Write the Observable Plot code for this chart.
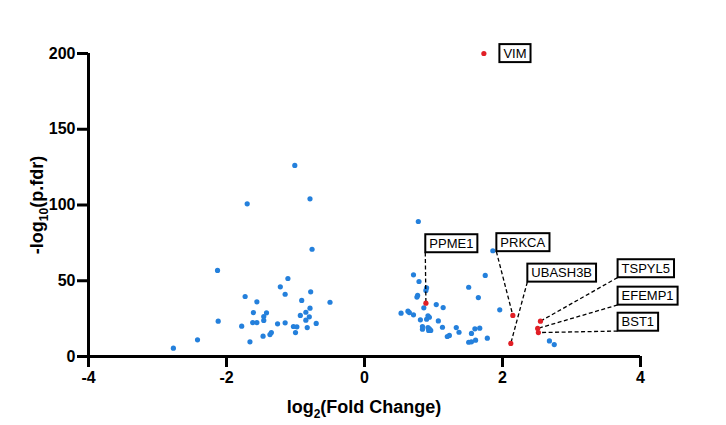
<!DOCTYPE html>
<html>
<head>
<meta charset="utf-8">
<script src="https://cdn.jsdelivr.net/npm/d3@7"></script>
<script src="https://cdn.jsdelivr.net/npm/@observablehq/plot@0.6"></script>
<style>
  html, body { margin: 0; padding: 0; background: #fff; }
  #chart { width: 726px; height: 425px; }
</style>
</head>
<body>
<div id="chart"></div>
<script>
// Non-highlighted genes: log2 fold change and -log10(fdr)
const bgFC = [
  -1.01,-0.79,-1.70,-0.76,-2.13,-1.11,-1.22,-1.15,-1.73,-0.78,-1.56,-0.91,-0.50,-1.61,-1.42,-1.46,
  -0.79,-0.85,-0.93,-0.80,-0.85,-2.12,-1.62,-1.56,-1.46,-1.26,-1.15,-0.70,-1.78,-1.03,-0.98,-0.83,
  -1.00,-1.35,-1.37,-1.47,-1.66,-2.42,-2.77,
  0.78,1.86,0.71,1.75,0.79,0.90,1.51,0.89,0.77,0.76,1.65,0.86,1.04,1.14,1.96,0.53,0.63,0.65,0.71,
  0.92,0.94,0.90,0.81,1.07,0.84,0.84,0.92,0.94,0.96,0.93,1.13,1.33,1.37,1.60,1.67,1.55,1.23,1.20,
  1.51,1.55,1.61,1.78,2.68,2.75
];
const bgP = [
  126.1,104.1,100.8,70.8,56.8,51.5,46.0,41.1,39.6,42.7,36.1,37.0,35.8,29.0,28.8,26.4,
  31.9,29.2,27.1,26.2,24.0,23.3,22.4,22.4,23.8,21.6,22.2,21.8,20.0,19.8,19.6,19.1,
  15.8,15.8,14.5,13.4,9.7,11.0,5.5,
  89.1,69.8,53.9,53.5,49.5,45.3,45.7,43.6,40.3,39.2,38.9,32.1,34.3,32.3,30.8,28.6,29.9,29.0,27.5,
  26.9,25.9,24.6,24.2,23.5,19.8,18.0,19.1,18.3,17.2,17.2,19.3,19.1,16.0,18.3,18.7,15.2,13.9,13.2,
  9.4,9.7,10.8,12.1,10.3,7.9
];

// Highlighted genes
const geneNames = ["VIM","PPME1","PRKCA","UBASH3B","TSPYL5","EFEMP1","BST1"];
const geneFC    = [1.73, 0.89, 2.15, 2.12, 2.55, 2.51, 2.52];
const geneP     = [200.0, 35.2, 27.1, 8.6, 23.3, 18.5, 15.8];

// Label box anchors (bottom-left corner of each box, in data units)
const labelX = [1.955, 0.881, 1.911, 2.36, 3.668, 3.668, 3.668];
const labelY = [194.1, 68.6, 69.3, 49.2, 52.1, 34.0, 16.8];

// Tick values
const xTicks = [-4, -2, 0, 2, 4];
const yTicks = [0, 50, 100, 150, 200];

const bg = bgFC.map((x, i) => ({x, y: bgP[i]}));
const genes = geneNames.map((name, i) => ({
  name, x: geneFC[i], y: geneP[i], lx: labelX[i], ly: labelY[i]
}));

const FONT = "'Liberation Sans', Arial, Helvetica, sans-serif";

const plot = Plot.plot({
  width: 726,
  height: 425,
  marginLeft: 88,
  marginRight: 86,
  marginTop: 53,
  marginBottom: 69,
  style: {fontFamily: FONT, background: "#fff", color: "#000"},
  x: {domain: [-4, 4], label: null},
  y: {domain: [0, 200], label: null},
  marks: [
    Plot.axisX({ticks: xTicks, tickSize: 11, tickPadding: 4, strokeWidth: 3,
      fontSize: 16, fontWeight: "bold", label: null, tickFormat: d => d}),
    Plot.axisY({ticks: yTicks, tickSize: 11, tickPadding: 2, strokeWidth: 3,
      fontSize: 16, fontWeight: "bold", label: null, tickFormat: d => d}),
    Plot.ruleY([0], {stroke: "#000", strokeWidth: 3}),
    Plot.ruleX([-4], {stroke: "#000", strokeWidth: 3}),
    Plot.dot(bg, {x: "x", y: "y", r: 2.6, fill: "#2480dc", stroke: "none"}),
    Plot.link(genes.filter(d => d.name !== "VIM"), {
      x1: "lx", y1: "ly", x2: "x", y2: "y",
      stroke: "#000", strokeWidth: 1.3, strokeDasharray: "4,2.5"
    }),
    Plot.dot(genes, {x: "x", y: "y", r: 2.6, fill: "#e11f26", stroke: "none"}),
    Plot.text(genes, {
      x: "lx", y: "ly", text: "name", textAnchor: "start", lineAnchor: "middle",
      dx: 4, dy: -9, fontSize: 13, fontWeight: "normal", fill: "#000"
    })
  ]
});

document.getElementById("chart").appendChild(plot);

// Draw frames around the gene labels from their measured text size
const svg = d3.select(plot);
const NS = "http://www.w3.org/2000/svg";
svg.selectAll("text").filter(function() {
  return geneNames.includes(this.textContent) && this.closest("g[aria-label='text']");
}).each(function() {
  const b = this.getBBox();
  const t = this.getAttribute("transform");
  const g = document.createElementNS(NS, "g");
  if (t) g.setAttribute("transform", t);
  const r = document.createElementNS(NS, "rect");
  const cy = b.y + b.height / 2;
  r.setAttribute("x", b.x - 4);
  r.setAttribute("y", cy - 9);
  r.setAttribute("width", b.width + 8);
  r.setAttribute("height", 18);
  r.setAttribute("fill", "#fff");
  r.setAttribute("stroke", "#000");
  r.setAttribute("stroke-width", 2);
  g.appendChild(r);
  this.parentNode.insertBefore(g, this);
});

// Axis titles with subscripts
const xt = svg.append("text")
  .attr("x", 364).attr("y", 413)
  .attr("text-anchor", "middle")
  .attr("font-family", FONT).attr("font-weight", "bold").attr("font-size", 18)
  .attr("fill", "#000");
xt.append("tspan").text("log");
xt.append("tspan").attr("dy", 5).attr("font-size", 12).text("2");
xt.append("tspan").attr("dy", -5).text("(Fold Change)");

const yt = svg.append("text")
  .attr("transform", "translate(43,205) rotate(-90)")
  .attr("text-anchor", "middle")
  .attr("font-family", FONT).attr("font-weight", "bold").attr("font-size", 18)
  .attr("fill", "#000");
yt.append("tspan").text("-log");
yt.append("tspan").attr("dy", 5).attr("font-size", 12).text("10");
yt.append("tspan").attr("dy", -5).text("(p.fdr)");
</script>
</body>
</html>
